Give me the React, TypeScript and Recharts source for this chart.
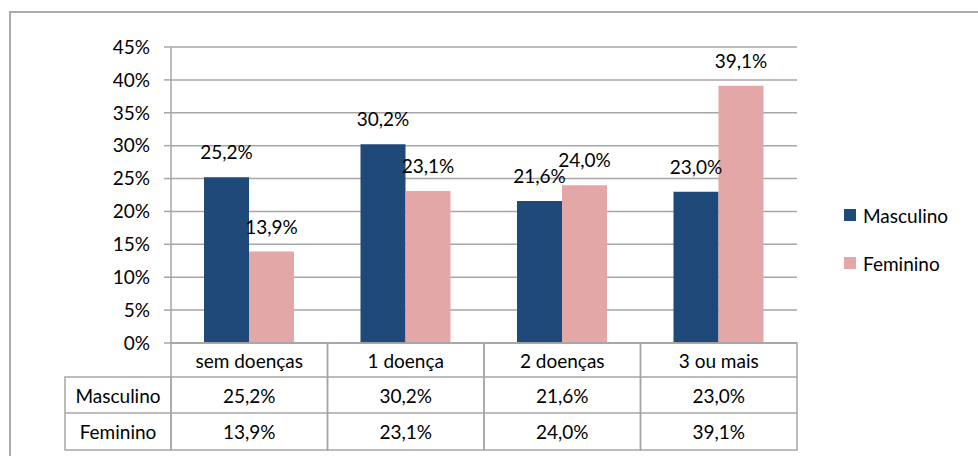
import React from 'react';
import { BarChart, Bar, XAxis, YAxis, CartesianGrid, Legend, LabelList } from 'recharts';

const categories = ['sem doenças', '1 doença', '2 doenças', '3 ou mais'];
const masculino = [25.2, 30.2, 21.6, 23.0];
const feminino = [13.9, 23.1, 24.0, 39.1];
const yTicks = [0, 5, 10, 15, 20, 25, 30, 35, 40, 45];
const seriesNames = ['Masculino', 'Feminino'];

const data = categories.map((category, i) => ({
  category,
  Masculino: masculino[i],
  Feminino: feminino[i],
}));

const rows = [
  { name: 'Masculino', values: masculino },
  { name: 'Feminino', values: feminino },
];

const WIDTH = 978;
const HEIGHT = 456;
const MARGIN = { top: 47, right: 181, left: 111, bottom: 13 };
const Y_AXIS_W = 60;
const X_AXIS_H = 100;
const BAND = (WIDTH - MARGIN.left - Y_AXIS_W - MARGIN.right) / categories.length;
const ROW_EDGES = [0, 34, 70, 107];
const HEADER_LEFT = 65;

const GRID = '#a6a6a6';
const FONT = 'Lato, "Liberation Sans", sans-serif';
const BLUE = '#1f4978';
const PINK = '#e2a7a6';

const fmt = (v: number) => v.toFixed(1).replace('.', ',') + '%';

const TableTick = (props: any) => {
  const { x, y, payload } = props;
  const i = payload.index;
  const left = x - BAND / 2;
  const textProps = {
    fontSize: 19,
    fontFamily: FONT,
    fill: '#000',
    textAnchor: 'middle' as const,
    dominantBaseline: 'central' as const,
  };
  const mid = (r: number) => y + (ROW_EDGES[r] + ROW_EDGES[r + 1]) / 2;
  return (
    <g>
      <rect x={left} y={y} width={BAND} height={ROW_EDGES[3]} fill="none" stroke={GRID} strokeWidth={1.5} />
      <line x1={left} x2={left + BAND} y1={y + ROW_EDGES[1]} y2={y + ROW_EDGES[1]} stroke={GRID} strokeWidth={1.5} />
      <line x1={left} x2={left + BAND} y1={y + ROW_EDGES[2]} y2={y + ROW_EDGES[2]} stroke={GRID} strokeWidth={1.5} />
      <text x={x} y={mid(0)} {...textProps}>{payload.value}</text>
      {rows.map((row, r) => (
        <text key={row.name} x={x} y={mid(r + 1)} {...textProps}>{fmt(row.values[i])}</text>
      ))}
      {i === 0 && (
        <g>
          <rect
            x={HEADER_LEFT}
            y={y + ROW_EDGES[1]}
            width={left - HEADER_LEFT}
            height={ROW_EDGES[3] - ROW_EDGES[1]}
            fill="none"
            stroke={GRID}
            strokeWidth={1.5}
          />
          <line x1={HEADER_LEFT} x2={left} y1={y + ROW_EDGES[2]} y2={y + ROW_EDGES[2]} stroke={GRID} strokeWidth={1.5} />
          {rows.map((row, r) => (
            <text key={row.name} x={(HEADER_LEFT + left) / 2} y={mid(r + 1)} {...textProps}>{row.name}</text>
          ))}
        </g>
      )}
    </g>
  );
};

const LegendBox = (props: any) => {
  const entries = [...(props.payload || [])].sort(
    (a: any, b: any) => seriesNames.indexOf(a.value) - seriesNames.indexOf(b.value)
  );
  return (
    <div style={{ fontFamily: FONT, fontSize: 19, color: '#000' }}>
      {entries.map((entry: any) => (
        <div key={entry.value} style={{ display: 'flex', alignItems: 'center', height: 24, marginBottom: 24 }}>
          <span style={{ display: 'inline-block', width: 12, height: 12, background: entry.color, marginRight: 7 }} />
          <span>{entry.value}</span>
        </div>
      ))}
    </div>
  );
};

export default function App() {
  return (
    <div style={{ position: 'absolute', left: 0, top: 0, width: WIDTH, height: HEIGHT, overflow: 'hidden', background: '#fff' }}>
      <div
        style={{
          position: 'absolute',
          left: 9,
          top: 11,
          width: WIDTH + 20,
          height: HEIGHT + 20,
          border: '2px solid #ababab',
        }}
      />
      <div style={{ position: 'absolute', left: 0, top: 0 }}>
        <BarChart width={WIDTH} height={HEIGHT} data={data} margin={MARGIN} barSize={45} barGap={0}>
          <CartesianGrid vertical={false} stroke={GRID} strokeWidth={1.5} />
          <XAxis
            dataKey="category"
            height={X_AXIS_H}
            interval={0}
            tickLine={false}
            tickSize={0}
            tickMargin={0}
            axisLine={{ stroke: GRID, strokeWidth: 1.5 }}
            tick={<TableTick />}
          />
          <YAxis
            width={Y_AXIS_W}
            domain={[0, 45]}
            ticks={yTicks}
            tickFormatter={(v: number) => `${v}%`}
            tickSize={7}
            tickMargin={14}
            axisLine={{ stroke: GRID, strokeWidth: 1.5 }}
            tickLine={{ stroke: GRID, strokeWidth: 1.5 }}
            tick={{ fontSize: 19, fontFamily: FONT, fill: '#000' }}
          />
          <Legend
            layout="vertical"
            align="center"
            verticalAlign="middle"
            wrapperStyle={{ left: 844, top: 203, width: 130 }}
            content={<LegendBox />}
          />
          <Bar dataKey="Masculino" name="Masculino" fill={BLUE} isAnimationActive={false}>
            <LabelList dataKey="Masculino" position="top" offset={18} formatter={(v: any) => fmt(Number(v))} style={{ fontSize: 19, fontFamily: FONT, fill: '#000' }} />
          </Bar>
          <Bar dataKey="Feminino" name="Feminino" fill={PINK} isAnimationActive={false}>
            <LabelList dataKey="Feminino" position="top" offset={18} formatter={(v: any) => fmt(Number(v))} style={{ fontSize: 19, fontFamily: FONT, fill: '#000' }} />
          </Bar>
        </BarChart>
      </div>
    </div>
  );
}
